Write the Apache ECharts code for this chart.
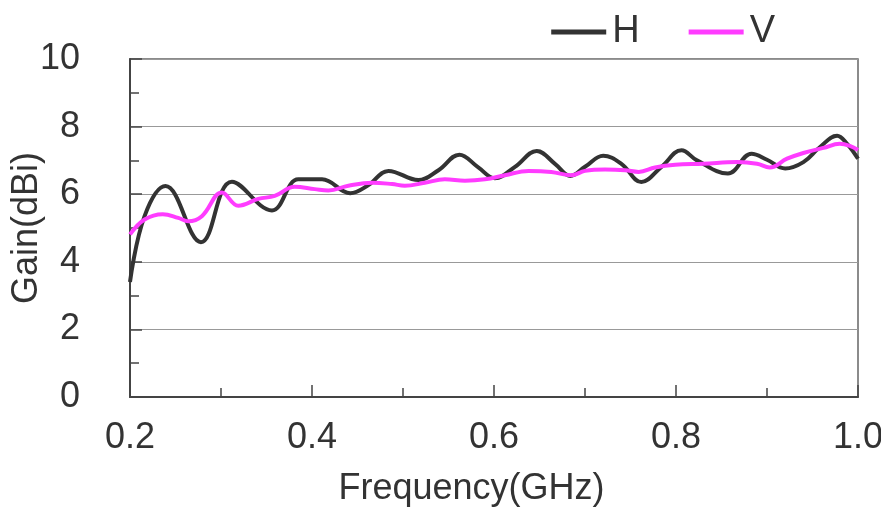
<!DOCTYPE html>
<html>
<head>
<meta charset="utf-8">
<script src="https://cdn.jsdelivr.net/npm/echarts@6/dist/echarts.min.js"></script>
<style>html,body{margin:0;padding:0;background:#fff;}#c{width:881px;height:515px;}</style>
</head>
<body>
<div id="c"></div>
<script>
// Frequency (GHz) sample points and gain (dBi)
const freqH = [0.200,0.216,0.239,0.278,0.312,0.356,0.385,0.411,0.442,0.462,0.484,0.517,0.539,0.562,0.582,0.601,0.623,0.647,0.667,0.684,0.700,0.720,0.740,0.762,0.784,0.806,0.823,0.857,0.883,0.900,0.920,0.940,0.958,0.977,0.988,1.000];
const gainH = [3.40,5.35,6.24,4.58,6.37,5.52,6.44,6.44,6.03,6.27,6.69,6.42,6.71,7.17,6.81,6.47,6.81,7.28,6.90,6.54,6.81,7.14,6.90,6.36,6.81,7.30,7.00,6.61,7.20,7.02,6.76,6.95,7.39,7.73,7.49,7.05];
const freqV = [0.200,0.216,0.236,0.253,0.264,0.279,0.301,0.319,0.341,0.359,0.381,0.403,0.418,0.440,0.466,0.488,0.502,0.524,0.546,0.568,0.590,0.612,0.638,0.663,0.685,0.700,0.722,0.744,0.759,0.777,0.799,0.830,0.867,0.889,0.903,0.922,0.940,0.962,0.980,0.991,1.000];
const gainV = [4.81,5.25,5.41,5.30,5.20,5.35,6.05,5.66,5.86,5.95,6.22,6.15,6.11,6.25,6.34,6.30,6.25,6.34,6.44,6.40,6.44,6.56,6.69,6.66,6.56,6.69,6.73,6.71,6.66,6.79,6.87,6.90,6.95,6.90,6.79,7.05,7.22,7.37,7.49,7.43,7.31];
const seriesNames = ['H','V'];
const xTicks = [0.2,0.4,0.6,0.8,1.0];
const yTicks = [0,2,4,6,8,10];

const FONT = '"Liberation Sans", Arial, sans-serif';
const chart = echarts.init(document.getElementById('c'));
chart.setOption({
  animation: false,
  backgroundColor: '#fff',
  grid: { left: 130, right: 23, top: 59, bottom: 118, show: true, borderColor: '#666', borderWidth: 1.5,
          containLabel: false, outerBoundsMode: 'none' },
  legend: {
    right: 101, top: 8,
    itemWidth: 55, itemHeight: 5, itemGap: 49,
    icon: 'rect',
    textStyle: { fontFamily: FONT, fontSize: 38, color: '#333', padding: [0,0,0,1] },
    data: seriesNames.map(n => ({ name: n }))
  },
  xAxis: {
    type: 'value', min: xTicks[0], max: xTicks[xTicks.length-1], interval: 0.2,
    name: 'Frequency(GHz)', nameLocation: 'middle', nameGap: 74, nameMoveOverlap: false,
    nameTextStyle: { fontFamily: FONT, fontSize: 36, color: '#333', padding: [0, 45, 0, 0] },
    axisLine: { lineStyle: { color: '#444', width: 2 } },
    axisTick: { inside: true, length: 12, lineStyle: { color: '#444', width: 1.5 } },
    minorTick: { show: true, splitNumber: 2, length: 9, lineStyle: { color: '#444', width: 1.5 } },
    axisLabel: { fontFamily: FONT, fontSize: 36, color: '#333', margin: 23, formatter: v => v.toFixed(1) },
    splitLine: { show: false }
  },
  yAxis: {
    type: 'value', min: yTicks[0], max: yTicks[yTicks.length-1], interval: 2,
    name: 'Gain(dBi)', nameLocation: 'middle', nameGap: 85, nameMoveOverlap: false,
    nameTextStyle: { fontFamily: FONT, fontSize: 36, color: '#333' },
    axisLine: { show: true, lineStyle: { color: '#444', width: 2 } },
    axisTick: { show: true, inside: true, length: 12, lineStyle: { color: '#444', width: 1.5 } },
    minorTick: { show: true, splitNumber: 2, length: 9, lineStyle: { color: '#444', width: 1.5 } },
    axisLabel: { fontFamily: FONT, fontSize: 36, color: '#333', margin: 50 },
    splitLine: { show: true, lineStyle: { color: '#999', width: 1.2 } }
  },
  series: [
    { name: seriesNames[0], type: 'line', smooth: 0.4, symbol: 'none',
      data: freqH.map((f,i) => [f, gainH[i]]),
      lineStyle: { color: '#333', width: 4 }, itemStyle: { color: '#333' }, z: 2 },
    { name: seriesNames[1], type: 'line', smooth: 0.4, symbol: 'none',
      data: freqV.map((f,i) => [f, gainV[i]]),
      lineStyle: { color: '#ff3cff', width: 4 }, itemStyle: { color: '#ff3cff' }, z: 3 }
  ]
});
</script>
</body>
</html>
